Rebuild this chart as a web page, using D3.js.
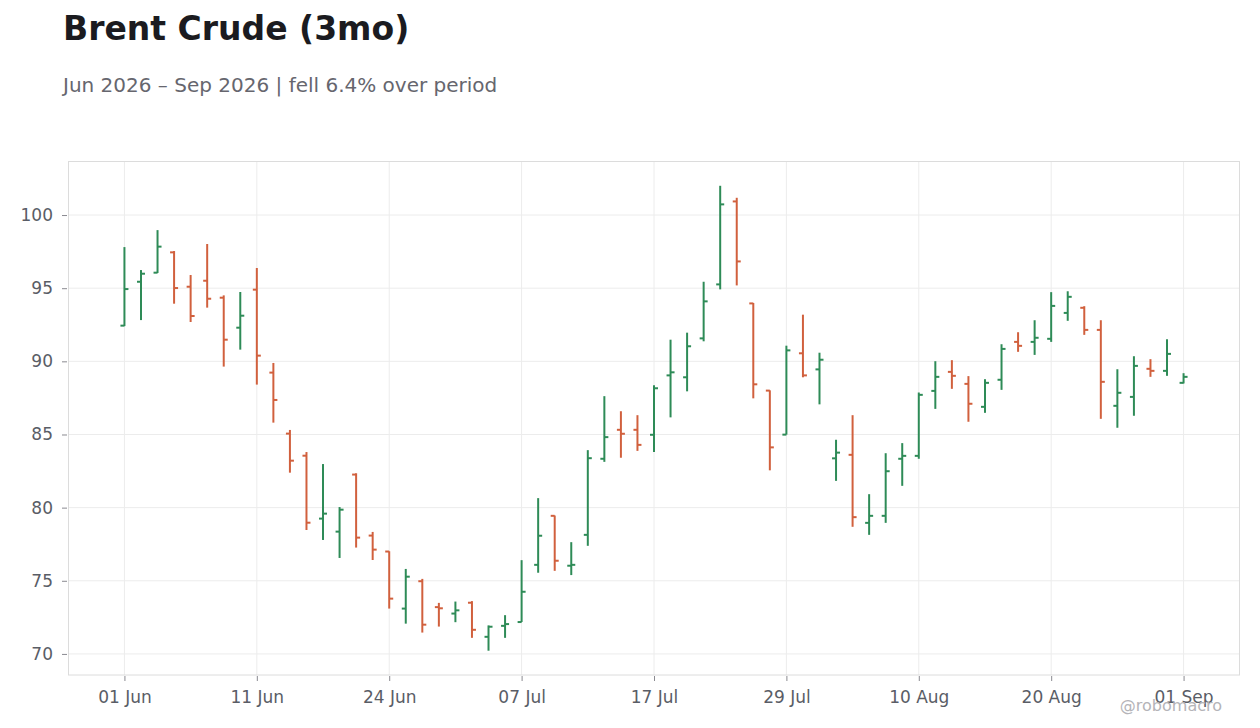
<!DOCTYPE html>
<html>
<head>
<meta charset="utf-8">
<script src="https://cdn.jsdelivr.net/npm/d3@7"></script>
<style>
  html, body { margin: 0; padding: 0; background: #ffffff; }
  svg { display: block; font-family: "DejaVu Sans", sans-serif; }
</style>
</head>
<body>
<svg id="chart" width="1260" height="728"></svg>
<script>
// ---- data ----
const dates = [
  "2026-06-01","2026-06-02","2026-06-03","2026-06-04","2026-06-05",
  "2026-06-08","2026-06-09","2026-06-10","2026-06-11","2026-06-12",
  "2026-06-15","2026-06-16","2026-06-17","2026-06-18",
  "2026-06-22","2026-06-23","2026-06-24","2026-06-25","2026-06-26",
  "2026-06-29","2026-06-30","2026-07-01","2026-07-02",
  "2026-07-06","2026-07-07","2026-07-08","2026-07-09","2026-07-10",
  "2026-07-13","2026-07-14","2026-07-15","2026-07-16","2026-07-17",
  "2026-07-20","2026-07-21","2026-07-22","2026-07-23","2026-07-24",
  "2026-07-27","2026-07-28","2026-07-29","2026-07-30","2026-07-31",
  "2026-08-03","2026-08-04","2026-08-05","2026-08-06","2026-08-07",
  "2026-08-10","2026-08-11","2026-08-12","2026-08-13","2026-08-14",
  "2026-08-17","2026-08-18","2026-08-19","2026-08-20","2026-08-21",
  "2026-08-24","2026-08-25","2026-08-26","2026-08-27","2026-08-28",
  "2026-08-31","2026-09-01"
];
const openV = [
  92.44,95.44,96.06,97.45,95.10,95.51,94.35,92.30,94.90,89.23,
  85.06,83.55,79.25,78.36,82.26,78.09,77.00,73.10,74.97,73.20,
  72.76,73.50,71.17,71.92,72.18,76.09,79.44,76.03,78.14,83.34,
  85.32,85.32,84.98,89.04,88.91,91.57,95.26,100.93,93.96,88.00,
  84.99,90.55,89.45,83.37,83.61,78.96,79.44,83.34,83.54,87.98,
  89.28,88.46,86.89,88.74,91.33,91.33,91.54,93.31,93.66,92.15,
  86.96,87.57,89.49,89.35,88.53
];
const highV = [
  97.81,96.24,98.97,97.54,95.90,98.02,94.51,94.74,96.38,89.89,
  85.31,83.80,82.98,80.04,82.35,78.34,77.02,75.81,75.13,73.49,
  73.58,73.61,71.95,72.65,76.41,80.65,79.46,77.64,83.93,87.62,
  86.59,86.32,88.36,91.48,91.96,95.44,102.00,101.18,93.99,88.02,
  91.07,93.19,90.59,84.64,86.32,80.92,83.72,84.41,87.87,90.01,
  90.08,88.99,88.78,91.17,91.99,92.81,94.73,94.79,93.77,92.81,
  89.46,90.35,90.15,91.51,89.19
];
const lowV = [
  92.41,92.82,96.04,93.94,92.69,93.67,89.64,90.80,88.41,85.81,
  82.39,78.47,77.79,76.56,77.27,76.42,73.10,72.07,71.46,71.87,
  72.17,71.10,70.22,71.10,72.18,75.55,75.68,75.39,77.39,83.13,
  83.41,83.88,83.80,86.17,87.95,91.37,94.92,95.19,87.47,82.55,
  84.99,88.91,87.06,81.83,78.69,78.14,78.96,81.49,83.34,86.75,
  88.12,85.87,86.48,88.05,90.65,90.44,91.33,92.77,91.81,86.07,
  85.46,86.28,88.94,89.01,88.49
];
const closeV = [
  94.94,95.99,97.84,95.01,93.10,94.28,91.48,93.12,90.39,87.36,
  83.21,78.97,79.59,79.86,77.95,77.13,73.78,75.28,72.00,73.12,
  72.98,71.65,71.86,72.04,74.25,78.08,76.37,76.09,83.38,84.82,
  85.05,84.29,88.16,89.25,91.03,94.10,100.73,96.83,88.43,84.12,
  90.75,89.04,90.11,83.76,79.35,79.44,82.49,83.54,87.71,88.94,
  89.01,87.10,88.53,90.85,91.06,91.61,93.79,94.41,92.15,88.60,
  87.85,89.69,89.35,90.51,88.94
];
const yTicks = [70, 75, 80, 85, 90, 95, 100];
const xTickDates = ["2026-06-01","2026-06-11","2026-06-24","2026-07-07","2026-07-17",
                    "2026-07-29","2026-08-10","2026-08-20","2026-09-01"];
const titleText = "Brent Crude (3mo)";
const subtitleText = "Jun 2026 \u2013 Sep 2026 | fell 6.4% over period";
const watermark = "@robomacro";

// ---- layout ----
const svg = d3.select("#chart");
const frame = { left: 68.5, right: 1239.5, top: 161.5, bottom: 675 };
const upColor = "#2e8b57", downColor = "#d1603d";

const bars = dates.map((d, i) => ({ d, o: openV[i], h: highV[i], l: lowV[i], c: closeV[i] }));

const x = d3.scalePoint().domain(dates).range([frame.left, frame.right]).padding(3.38);
const y = d3.scaleLinear().domain([68.56, 103.66]).range([frame.bottom, frame.top]);

const parse = d3.timeParse("%Y-%m-%d");
const fmt = d3.timeFormat("%d %b");

// title
svg.append("text").attr("x", 63).attr("y", 40)
  .attr("font-size", 33).attr("font-weight", "bold").attr("fill", "#1b1b20")
  .text(titleText);
svg.append("text").attr("x", 63).attr("y", 92)
  .attr("font-size", 20).attr("fill", "#66666e")
  .text(subtitleText);

// grid
const g = svg.append("g");
g.selectAll("line.hgrid").data(yTicks).join("line")
  .attr("x1", frame.left).attr("x2", frame.right)
  .attr("y1", d => y(d)).attr("y2", d => y(d))
  .attr("stroke", "#ececec").attr("stroke-width", 1);
g.selectAll("line.vgrid").data(xTickDates).join("line")
  .attr("x1", d => x(d)).attr("x2", d => x(d))
  .attr("y1", frame.top).attr("y2", frame.bottom)
  .attr("stroke", "#ececec").attr("stroke-width", 1);

// frame
svg.append("rect")
  .attr("x", frame.left).attr("y", frame.top)
  .attr("width", frame.right - frame.left).attr("height", frame.bottom - frame.top)
  .attr("fill", "none").attr("stroke", "#dcdcdc").attr("stroke-width", 1);

// axes
const yAxis = d3.axisLeft(y).tickValues(yTicks).tickSize(5).tickPadding(9);
const yg = svg.append("g").attr("transform", `translate(${frame.left - 1.5},0)`).call(yAxis);
const xAxis = d3.axisBottom(x).tickValues(xTickDates).tickSize(5).tickPadding(10)
  .tickFormat(d => fmt(parse(d)));
const xg = svg.append("g").attr("transform", `translate(0,${frame.bottom + 1})`).call(xAxis);
[yg, xg].forEach(a => {
  a.select(".domain").remove();
  a.selectAll(".tick line").attr("stroke", "#8a8a90");
  a.selectAll(".tick text").attr("fill", "#5a5d66").attr("font-size", 17)
    .attr("font-family", "DejaVu Sans, sans-serif");
});

// OHLC bars
const bg = svg.append("g");
const col = b => b.c >= b.o ? upColor : downColor;
bg.selectAll("line.hl").data(bars).join("line")
  .attr("x1", b => x(b.d)).attr("x2", b => x(b.d))
  .attr("y1", b => y(b.h)).attr("y2", b => y(b.l))
  .attr("stroke", col).attr("stroke-width", 2);
bg.selectAll("line.op").data(bars).join("line")
  .attr("x1", b => x(b.d) - 4).attr("x2", b => x(b.d))
  .attr("y1", b => y(b.o)).attr("y2", b => y(b.o))
  .attr("stroke", col).attr("stroke-width", 2);
bg.selectAll("line.cl").data(bars).join("line")
  .attr("x1", b => x(b.d)).attr("x2", b => x(b.d) + 4)
  .attr("y1", b => y(b.c)).attr("y2", b => y(b.c))
  .attr("stroke", col).attr("stroke-width", 2);

// watermark
svg.append("text").attr("x", 1222).attr("y", 711).attr("text-anchor", "end")
  .attr("font-size", 16).attr("fill", "#b4b4b8").text(watermark);
</script>
</body>
</html>
